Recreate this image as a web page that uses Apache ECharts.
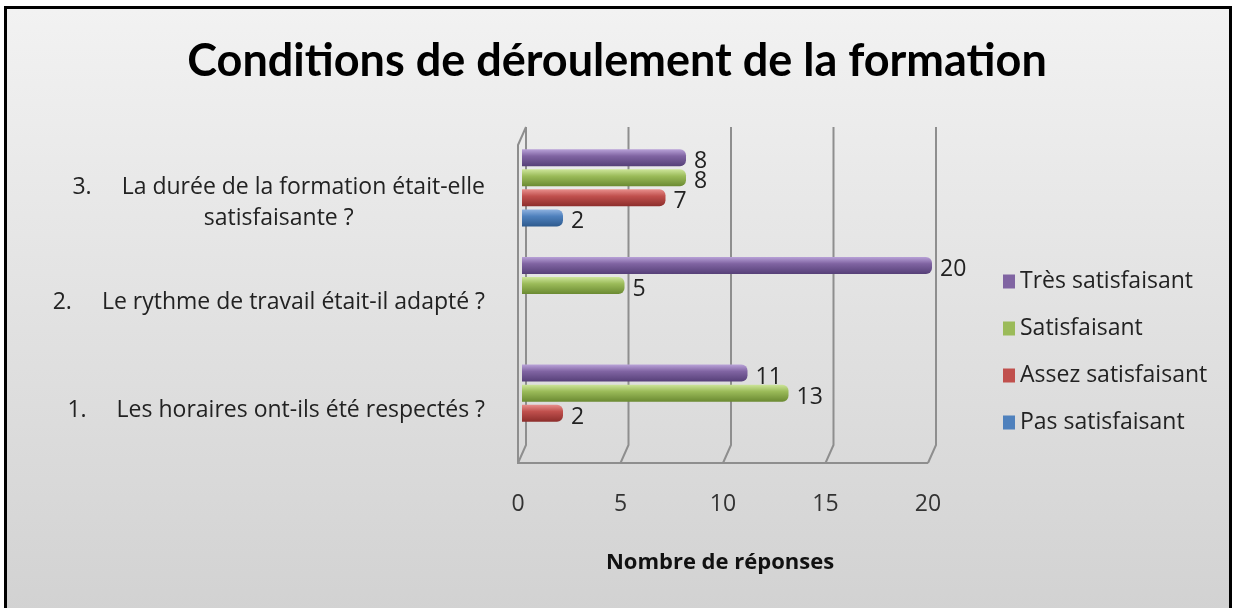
<!DOCTYPE html>
<html>
<head>
<meta charset="utf-8">
<script src="https://cdn.jsdelivr.net/npm/echarts@6/dist/echarts.min.js"></script>
<style>
html, body { margin: 0; padding: 0; width: 1234px; height: 608px; overflow: hidden; background: #fff; }
#frame { position: absolute; left: 4px; top: 6px; width: 1222px; height: 602px; border: 3px solid #000; border-bottom: none; background: linear-gradient(#f2f2f2, #d2d2d2); }
#main { position: absolute; left: 0; top: 0; width: 1234px; height: 608px; }
</style>
</head>
<body>
<div id="frame"></div>
<div id="main"></div>
<script>
// categories, bottom to top like the original
var categories = [
  '1.|Les horaires ont-ils été respectés ?',
  '2.|Le rythme de travail était-il adapté ?',
  '3.|La durée de la formation était-elle|satisfaisante ?'
]
var tresSatisfaisant = [11, 20, 8]
var satisfaisant = [13, 5, 8]
var assezSatisfaisant = [2, null, 7]
var pasSatisfaisant = [null, null, 2]
var xTicks = [0, 5, 10, 15, 20]

var FONT = '"Open Sans", Lato, sans-serif'
var TITLE_FONT = 'Lato, "Open Sans", sans-serif'
var GRID = { left: 522, right: 302, top: 134, bottom: 151 }

function grad(light, base, dark) {
  return new echarts.graphic.LinearGradient(0, 0, 0, 1, [
    { offset: 0, color: light },
    { offset: 0.4, color: base },
    { offset: 1, color: dark }
  ])
}

function barSeries(name, data, fill) {
  return {
    name: name,
    type: 'bar',
    data: data,
    barWidth: 17,
    barGap: '18%',
    itemStyle: { color: fill, borderRadius: [0, 6, 6, 0] },
    label: {
      show: true,
      position: 'right',
      distance: 8,
      offset: [0, 4],
      fontSize: 23,
      color: '#222',
      fontFamily: FONT
    }
  }
}

var lbl = { fontSize: 23, color: '#222', fontFamily: FONT, lineHeight: 31 }

var chart = echarts.init(document.getElementById('main'))
var option = {
  backgroundColor: 'transparent',
  animation: false,
  title: {
    text: 'Conditions de déroulement de la formation',
    left: 'center',
    top: 34,
    textStyle: { fontSize: 45, fontWeight: 'bold', color: '#000', fontFamily: TITLE_FONT }
  },
  legend: {
    orient: 'vertical',
    left: 998,
    top: 265,
    itemWidth: 12,
    itemHeight: 14,
    itemGap: 24,
    icon: 'rect',
    textStyle: { fontSize: 23, color: '#222', fontFamily: FONT },
    data: [
      { name: 'Très satisfaisant', itemStyle: { color: '#8064a2' } },
      { name: 'Satisfaisant', itemStyle: { color: '#9bbb59' } },
      { name: 'Assez satisfaisant', itemStyle: { color: '#c0504d' } },
      { name: 'Pas satisfaisant', itemStyle: { color: '#4f81bd' } }
    ]
  },
  grid: GRID,
  xAxis: {
    type: 'value',
    min: 0,
    max: 20,
    interval: 5,
    name: 'Nombre de réponses',
    nameLocation: 'middle',
    nameGap: 95,
    nameTextStyle: { fontSize: 22, fontWeight: 'bold', color: '#111', fontFamily: FONT, padding: [0, 14, 0, 0] },
    axisLine: { show: false },
    axisTick: { show: false },
    splitLine: { show: false },
    axisLabel: { margin: 36, fontSize: 23, color: '#333', fontFamily: FONT, padding: [0, 8, 0, 0] }
  },
  yAxis: {
    type: 'category',
    data: categories,
    axisLine: { show: false },
    axisTick: { show: false },
    axisLabel: {
      margin: 37,
      padding: [14, 0, 0, 0],
      lineHeight: 31,
      fontSize: 23,
      color: '#222',
      fontFamily: FONT,
      formatter: function (v) {
        var parts = v.split('|')
        if (parts[2]) {
          return '{n2|' + parts[0] + '}{t2|' + parts[1] + '}\n{c|' + parts[2] + '}'
        }
        return '{n|' + parts[0] + '}{t|' + parts[1] + '}'
      },
      rich: {
        n: Object.assign({ padding: [0, 30, 0, 0] }, lbl),
        t: Object.assign({}, lbl),
        n2: Object.assign({ padding: [16, 30, 0, 0] }, lbl),
        t2: Object.assign({ padding: [16, 0, 0, 0] }, lbl),
        c: Object.assign({ align: 'center', padding: [16, 0, 0, 0] }, lbl)
      }
    }
  },
  series: [
    barSeries('Très satisfaisant', tresSatisfaisant, grad('#b9a2d8', '#8064a2', '#564078')),
    barSeries('Satisfaisant', satisfaisant, grad('#cde59a', '#9bbb59', '#6b8a32')),
    barSeries('Assez satisfaisant', assezSatisfaisant, grad('#e88f8c', '#c0504d', '#8c2d2b')),
    barSeries('Pas satisfaisant', pasSatisfaisant, grad('#8fb2e0', '#4f81bd', '#2d5a8e'))
  ]
}
chart.setOption(option)

// 3D walls (back wall + floor + left wall) drawn from the axis scale
function drawWalls() {
  var top = GRID.top
  var bottom = 608 - GRID.bottom
  var lines = []
  var stroke = { stroke: '#8e8e8e', lineWidth: 2, fill: null }
  xTicks.forEach(function (v) {
    var x = chart.convertToPixel({ xAxisIndex: 0 }, v)
    lines.push({ type: 'polyline', silent: true, z: 0,
      shape: { points: [[x + 4, top - 7], [x + 4, bottom - 12], [x - 4, bottom + 6]] }, style: stroke })
  })
  var x0 = chart.convertToPixel({ xAxisIndex: 0 }, xTicks[0])
  var x1 = chart.convertToPixel({ xAxisIndex: 0 }, xTicks[xTicks.length - 1])
  lines.push({ type: 'polyline', silent: true, z: 0,
    shape: { points: [[x0 + 4, top - 7], [x0 - 4, top + 11], [x0 - 4, bottom + 6], [x1 - 4, bottom + 6]] }, style: stroke })
  chart.setOption({ graphic: lines })
}
drawWalls()
</script>
</body>
</html>
